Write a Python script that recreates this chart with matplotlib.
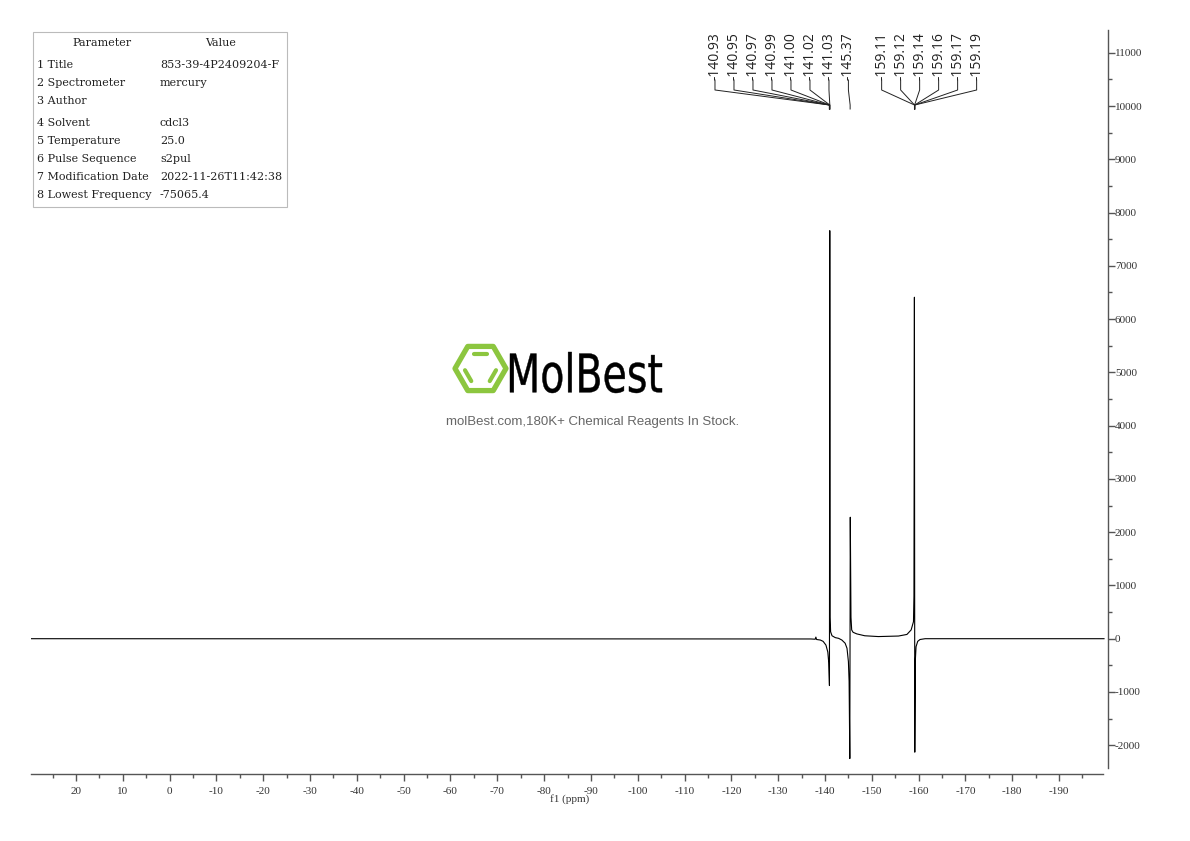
import numpy as np
import matplotlib
matplotlib.use("Agg")
import matplotlib.pyplot as plt
from matplotlib.transforms import Affine2D, blended_transform_factory
from matplotlib.textpath import TextPath
from matplotlib.font_manager import FontProperties
from matplotlib.patches import PathPatch, Rectangle
from matplotlib.path import Path

plt.rcParams['axes.unicode_minus'] = False
plt.rcParams['font.family'] = ['Liberation Serif', 'DejaVu Serif']

# spectrum trace (ppm, intensity)
shift_ppm = [29.6, -137.0, -137.9, -138.05, -138.2, -139.0, -139.6, -140.2, -140.6, -140.8,
             -140.95, -141.02, -141.1, -141.2, -141.5, -142.2, -142.9, -143.6, -144.3, -144.7,
             -145.0, -145.15, -145.30, -145.40, -145.55, -145.7, -146.0, -146.8, -148.5, -151.4,
             -155.7, -157.5, -158.4, -158.9, -159.0, -159.10, -159.18, -159.3, -159.45, -159.8,
             -160.3, -161.4, -199.6]
intensity = [0, -5, -10, 30, -15, -25, -50, -120, -250, -450,
             -880, 7660, 400, 130, 55, 20, 7, -25, -85, -180,
             -430, -800, -2250, 2280, 400, 165, 120, 90, 55, 40,
             50, 80, 165, 320, 800, 6410, -2130, -400, -150, -50,
             -15, 0, 0]

peak_shifts = [-140.93, -140.95, -140.97, -140.99, -141.00, -141.02, -141.03,
               -145.37,
               -159.11, -159.12, -159.14, -159.16, -159.17, -159.19]

param_names = ['Title', 'Spectrometer', 'Author', 'Solvent', 'Temperature',
               'Pulse Sequence', 'Modification Date', 'Lowest Frequency']
param_values = ['853-39-4P2409204-F', 'mercury', '', 'cdcl3', '25.0',
                's2pul', '2022-11-26T11:42:38', '-75065.4']

W, H = 1190, 841
fig = plt.figure(figsize=(W / 100, H / 100), dpi=100)
px = Affine2D().scale(1 / W, -1 / H).translate(0, 1) + fig.transFigure

ax = fig.add_axes([31 / W, 1 - 774 / H, (1108 - 31) / W, (774 - 30) / H])
ax.plot(shift_ppm, intensity, color='black', lw=0.8)
ax.set_xlim(29.6, -200.45)
ax.set_ylim(-2540, 11427)

for s in ['left', 'top']:
    ax.spines[s].set_visible(False)
ax.spines['bottom'].set_bounds(29.6, -199.4)
ax.spines['right'].set_bounds(-2427, 11427)
for s in ['bottom', 'right']:
    ax.spines[s].set_color('#555555')
    ax.spines[s].set_linewidth(1.0)

ax.yaxis.tick_right()
ax.set_xticks(np.arange(20, -191, -10))
ax.set_xticks(np.arange(25, -200, -10), minor=True)
ax.set_yticks(np.arange(-2000, 11001, 1000))
ax.set_yticks(np.arange(-1500, 11001, 1000), minor=True)
ax.tick_params(which='major', direction='out', length=5, width=1, color='#555555',
               labelsize=8, labelcolor='#333333')
ax.tick_params(which='minor', direction='out', length=3, width=1, color='#555555')
ax.tick_params(axis='x', pad=4)
ax.tick_params(axis='y', pad=0)
ax.set_xlabel('f1 (ppm)', fontsize=8, color='#333333', labelpad=-1)

# peak labels with leader lines
label_x = list(-116.5 - 4.058 * np.arange(7)) + [-145.0] + list(-152.1 - 4.058 * np.arange(6))
bt = blended_transform_factory(ax.transData, fig.transFigure)
fy = lambda y: 1 - y / H
for lx, p in zip(label_x, peak_shifts):
    ax.text(lx, fy(80), f'-{abs(p):.2f}', transform=bt, rotation=90, ha='center', va='bottom',
            fontsize=10, family='Open Sans', color='#222222')
    ax.plot([lx, lx, p, p], [fy(80), fy(90), fy(105), fy(109)], transform=bt,
            color='#222222', lw=0.7, clip_on=False)

# parameter table
fig.patches.append(Rectangle((33, 32), 254, 175, transform=px, fill=False,
                             ec='#bbbbbb', lw=0.8))
tfont = dict(family='DejaVu Serif', fontsize=8, color='#222222', transform=px, va='center')
fig.text(102, 43, 'Parameter', ha='center', **tfont)
fig.text(221, 43, 'Value', ha='center', **tfont)
row_y = [65, 83, 101, 123, 141, 159, 177, 195]
for i, (nm, val) in enumerate(zip(param_names, param_values)):
    fig.text(37, row_y[i], f'{i + 1} {nm}', ha='left', **tfont)
    fig.text(160, row_y[i], val, ha='left', **tfont)

# watermark logo
green = '#8cc63f'
cx, cy, r = 480.5, 368.5, 25.5
ang = np.radians(np.arange(0, 361, 60))
hexv = np.column_stack([cx + r * np.cos(ang), cy - r * np.sin(ang)])
fig.patches.append(PathPatch(Path(hexv, closed=True), transform=px, fill=False,
                             ec=green, lw=3.8, joinstyle='round'))
ri = 16.5
for a0 in [60, 180, 300]:
    a = np.radians([a0, a0 + 60])
    p0 = np.array([cx + ri * np.cos(a[0]), cy - ri * np.sin(a[0])])
    p1 = np.array([cx + ri * np.cos(a[1]), cy - ri * np.sin(a[1])])
    q0, q1 = p0 + 0.12 * (p1 - p0), p1 - 0.12 * (p1 - p0)
    fig.lines.append(plt.Line2D([q0[0], q1[0]], [q0[1], q1[1]], transform=px,
                                color=green, lw=3.0, solid_capstyle='round'))

tp = TextPath((0, 0), 'MolBest', size=1, prop=FontProperties(family='DejaVu Sans'))
ext = tp.get_extents()
sx = (662 - 510) / ext.width
sy = (393 - 352) / ext.height
tr = Affine2D().translate(-ext.x0, -ext.y0).scale(sx, -sy).translate(510, 393)
fig.patches.append(PathPatch(tr.transform_path(tp), transform=px, fc='black',
                             ec='black', lw=0.3))
fig.text(593, 422, 'molBest.com,180K+ Chemical Reagents In Stock.', transform=px,
         ha='center', va='center', fontsize=9.5, family='Liberation Sans', color='#666666')

fig.savefig('out.png', dpi=100)
